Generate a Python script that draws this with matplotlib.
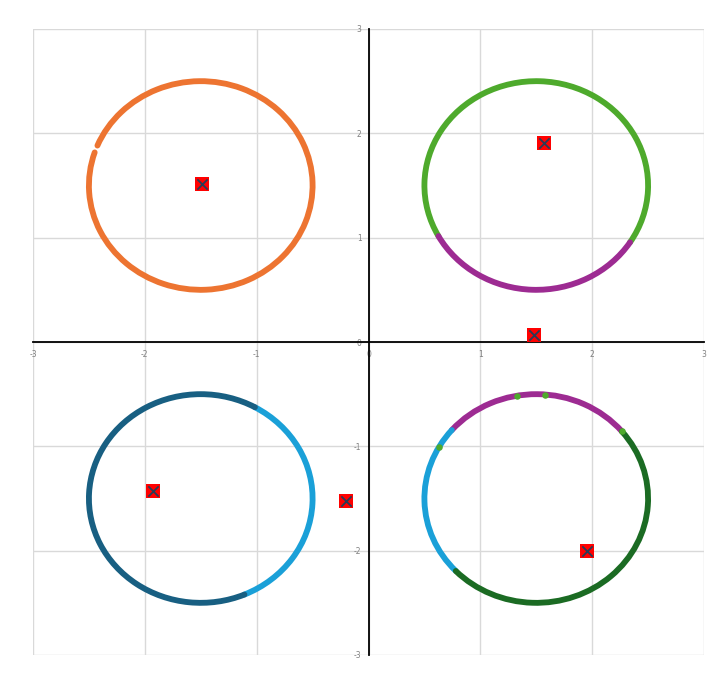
import matplotlib.pyplot as plt
from matplotlib.patches import Arc

plt.rcParams['axes.unicode_minus'] = False

# circle clusters: centre x, centre y
centre_x = [-1.5, 1.5, -1.5, 1.5]
centre_y = [1.5, 1.5, -1.5, -1.5]
radius = 1.0

# coloured arc segments per circle: (circle index, start deg, end deg, colour)
seg_circle = [0, 1, 1, 2, 2, 3, 3, 3]
seg_start = [161.5, 327, 209, 293, 61, 40, 139, 224]
seg_end = [517.5, 569, 327, 421, 293, 139, 224, 400]
seg_color = ['#ED7431', '#4EAA2C', '#9D2B92', '#1AA0D8', '#185F82',
             '#9D2B92', '#1AA0D8', '#1B6B23']

# stray points of another colour
stray_x = [1.33, 1.58, 2.27, 0.63]
stray_y = [-0.52, -0.51, -0.85, -1.01]

# centroids
cent_x = [-1.49, 1.57, 1.48, -1.93, -0.20, 1.95]
cent_y = [1.51, 1.91, 0.07, -1.43, -1.52, -2.00]

ticks = [-3, -2, -1, 0, 1, 2, 3]

fig = plt.figure(figsize=(7.25, 6.82), dpi=100)
ax = fig.add_axes([33/725, 1-655/682, (704-33)/725, (655-29)/682])
ax.set_xlim(-3, 3)
ax.set_ylim(-3, 3)

for c, t1, t2, col in zip(seg_circle, seg_start, seg_end, seg_color):
    a = Arc((centre_x[c], centre_y[c]), 2*radius, 2*radius, theta1=t1, theta2=t2,
            color=col, lw=4.2, capstyle='round', zorder=3)
    ax.add_patch(a)

ax.scatter(stray_x, stray_y, s=22, color='#4EAA2C', zorder=4, linewidths=0)

ax.scatter(cent_x, cent_y, marker='s', s=95, color='#FF0000', zorder=5, linewidths=0)
ax.scatter(cent_x, cent_y, marker='x', s=55, color='#2B3A55', zorder=6, linewidths=1.3)

ax.set_xticks(ticks)
ax.set_yticks(ticks)
ax.grid(True, color='#D9D9D9', lw=1)
ax.set_axisbelow(True)
for s in ['top', 'right']:
    ax.spines[s].set_visible(False)
ax.spines['left'].set_position(('data', 0))
ax.spines['bottom'].set_position(('data', 0))
ax.spines['left'].set_linewidth(1.3)
ax.spines['bottom'].set_linewidth(1.3)
ax.tick_params(length=0, labelsize=5.5, labelcolor='#808080')
ax.tick_params(axis='x', pad=6)
ax.tick_params(axis='y', pad=5)

plt.savefig('out.png', dpi=100)
